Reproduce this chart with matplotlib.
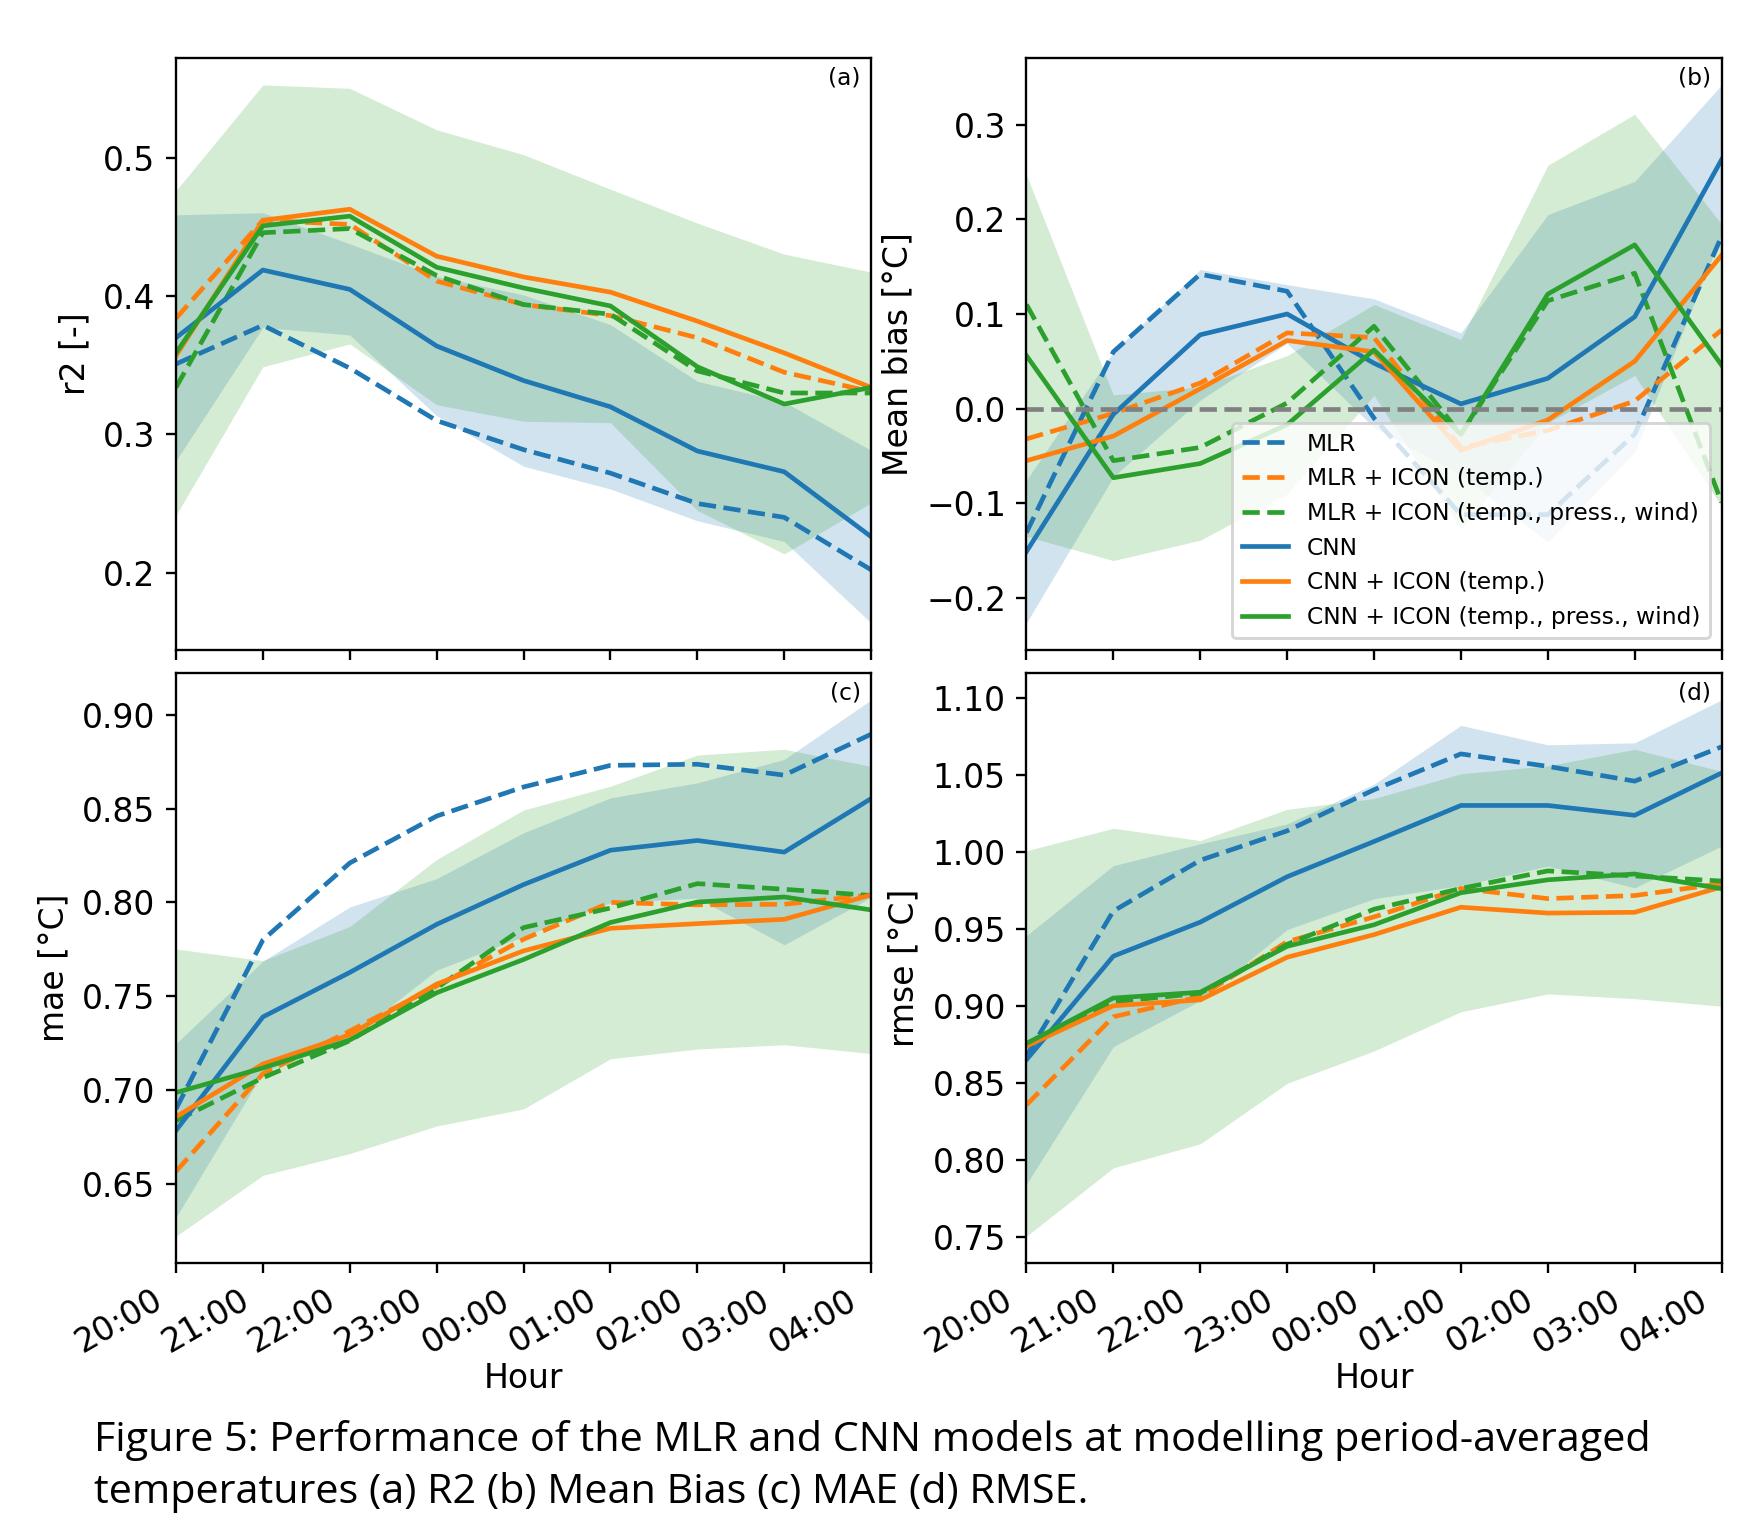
import matplotlib.pyplot as plt
from matplotlib.ticker import MultipleLocator
from matplotlib.transforms import ScaledTranslation
import numpy as np

plt.rcParams['font.size'] = 11.3
plt.rcParams['lines.linewidth'] = 1.6

# hours on the x axis
hours = ['20:00', '21:00', '22:00', '23:00', '00:00', '01:00', '02:00', '03:00', '04:00']

# (a) r2
r2_mlr = [0.351, 0.379, 0.348, 0.310, 0.289, 0.272, 0.250, 0.240, 0.202]
r2_mlr_t = [0.384, 0.455, 0.452, 0.411, 0.394, 0.386, 0.370, 0.345, 0.331]
r2_mlr_tpw = [0.334, 0.446, 0.449, 0.415, 0.394, 0.387, 0.346, 0.330, 0.330]
r2_cnn = [0.370, 0.419, 0.405, 0.364, 0.339, 0.320, 0.288, 0.273, 0.226]
r2_cnn_t = [0.357, 0.455, 0.463, 0.429, 0.414, 0.403, 0.382, 0.359, 0.334]
r2_cnn_tpw = [0.359, 0.451, 0.458, 0.421, 0.406, 0.393, 0.349, 0.322, 0.334]
r2_cnn_std = [0.089, 0.0415, 0.033, 0.0505, 0.062, 0.0595, 0.0505, 0.0505, 0.0625]
r2_cnn_tpw_std = [0.1175, 0.102, 0.0925, 0.0995, 0.0965, 0.0845, 0.104, 0.1085, 0.0835]

# (b) mean bias
mb_mlr = [-0.131, 0.060, 0.142, 0.124, -0.010, -0.112, -0.112, -0.027, 0.182]
mb_mlr_t = [-0.032, -0.005, 0.027, 0.080, 0.075, -0.041, -0.023, 0.008, 0.083]
mb_mlr_tpw = [0.110, -0.055, -0.041, 0.006, 0.087, -0.027, 0.114, 0.143, -0.099]
mb_cnn = [-0.151, -0.006, 0.078, 0.100, 0.048, 0.005, 0.032, 0.097, 0.263]
mb_cnn_t = [-0.055, -0.029, 0.021, 0.072, 0.060, -0.044, -0.012, 0.050, 0.162]
mb_cnn_tpw = [0.056, -0.073, -0.058, -0.017, 0.062, -0.027, 0.121, 0.173, 0.046]
mb_cnn_std = [0.0755, 0.066, 0.069, 0.031, 0.068, 0.075, 0.173, 0.143, 0.079]
mb_cnn_tpw_std = [0.191, 0.0875, 0.081, 0.073, 0.048, 0.10, 0.136, 0.138, 0.149]

# (c) mae
mae_mlr = [0.690, 0.780, 0.821, 0.846, 0.8615, 0.873, 0.8736, 0.8678, 0.8896]
mae_mlr_t = [0.6567, 0.7087, 0.7315, 0.7554, 0.7804, 0.800, 0.7987, 0.799, 0.804]
mae_mlr_tpw = [0.6837, 0.7066, 0.7263, 0.7544, 0.7866, 0.797, 0.810, 0.807, 0.8037]
mae_cnn = [0.6785, 0.739, 0.7627, 0.7883, 0.8095, 0.8278, 0.833, 0.8268, 0.8553]
mae_cnn_t = [0.6858, 0.7139, 0.7295, 0.7565, 0.7742, 0.7862, 0.7887, 0.791, 0.804]
mae_cnn_tpw = [0.6987, 0.7118, 0.7267, 0.7519, 0.7696, 0.7893, 0.8002, 0.8029, 0.796]
mae_cnn_std = [0.0463, 0.0297, 0.0349, 0.0244, 0.0276, 0.0279, 0.0307, 0.0494, 0.0526]
mae_cnn_tpw_std = [0.0765, 0.0572, 0.0605, 0.071, 0.0796, 0.0726, 0.0783, 0.0787, 0.0765]

# (d) rmse
rmse_mlr = [0.8674, 0.9615, 0.9945, 1.0136, 1.0403, 1.0636, 1.0555, 1.0459, 1.0682]
rmse_mlr_t = [0.8356, 0.8928, 0.906, 0.9416, 0.9577, 0.9762, 0.9696, 0.9716, 0.9793]
rmse_mlr_tpw = [0.8755, 0.9025, 0.9081, 0.9399, 0.9627, 0.9762, 0.9876, 0.9843, 0.981]
rmse_cnn = [0.8649, 0.9322, 0.9543, 0.9838, 1.0067, 1.0301, 1.0301, 1.0237, 1.0512]
rmse_cnn_t = [0.8738, 0.900, 0.9038, 0.9315, 0.9462, 0.964, 0.9602, 0.9607, 0.9772]
rmse_cnn_tpw = [0.8755, 0.905, 0.9088, 0.9386, 0.9526, 0.9734, 0.9818, 0.9856, 0.976]
rmse_cnn_std = [0.0807, 0.0588, 0.0509, 0.0343, 0.0372, 0.052, 0.0394, 0.0471, 0.0475]
rmse_cnn_tpw_std = [0.1252, 0.1103, 0.0985, 0.089, 0.082, 0.0773, 0.0741, 0.081, 0.0763]

labels = ['MLR', 'MLR + ICON (temp.)', 'MLR + ICON (temp., press., wind)',
          'CNN', 'CNN + ICON (temp.)', 'CNN + ICON (temp., press., wind)']

x = np.arange(len(hours))


def draw_panel(ax, mlr, mlr_t, mlr_tpw, cnn, cnn_t, cnn_tpw, cnn_std, cnn_tpw_std):
    ax.plot(x, mlr, color='C0', ls='--', label=labels[0])
    ax.plot(x, mlr_t, color='C1', ls='--', label=labels[1])
    ax.plot(x, mlr_tpw, color='C2', ls='--', label=labels[2])
    ax.plot(x, cnn, color='C0', label=labels[3])
    ax.fill_between(x, np.array(cnn) - cnn_std, np.array(cnn) + cnn_std, color='C0', alpha=0.2, lw=0)
    ax.plot(x, cnn_t, color='C1', label=labels[4])
    ax.plot(x, cnn_tpw, color='C2', label=labels[5])
    ax.fill_between(x, np.array(cnn_tpw) - cnn_tpw_std, np.array(cnn_tpw) + cnn_tpw_std,
                    color='C2', alpha=0.2, lw=0)
    ax.set_xlim(0, len(hours) - 1)
    ax.set_xticks(x)


fig = plt.figure(figsize=(1751 / 210, 1530 / 210), dpi=210)

ax_a = fig.add_axes([0.1005, 0.5752, 0.397, 0.3869])
ax_b = fig.add_axes([0.5862, 0.5752, 0.397, 0.3869])
ax_c = fig.add_axes([0.1005, 0.1745, 0.397, 0.3856])
ax_d = fig.add_axes([0.5862, 0.1745, 0.397, 0.3856])

draw_panel(ax_a, r2_mlr, r2_mlr_t, r2_mlr_tpw, r2_cnn, r2_cnn_t, r2_cnn_tpw, r2_cnn_std, r2_cnn_tpw_std)
draw_panel(ax_b, mb_mlr, mb_mlr_t, mb_mlr_tpw, mb_cnn, mb_cnn_t, mb_cnn_tpw, mb_cnn_std, mb_cnn_tpw_std)
draw_panel(ax_c, mae_mlr, mae_mlr_t, mae_mlr_tpw, mae_cnn, mae_cnn_t, mae_cnn_tpw, mae_cnn_std, mae_cnn_tpw_std)
draw_panel(ax_d, rmse_mlr, rmse_mlr_t, rmse_mlr_tpw, rmse_cnn, rmse_cnn_t, rmse_cnn_tpw,
           rmse_cnn_std, rmse_cnn_tpw_std)

ax_a.yaxis.set_major_locator(MultipleLocator(0.1))

ax_b.axhline(0, color='grey', ls='--')
ax_b.legend(loc='lower right', fontsize=8)

ax_a.set_ylabel('r2 [-]')
ax_b.set_ylabel('Mean bias [°C]')
ax_c.set_ylabel('mae [°C]')
ax_d.set_ylabel('rmse [°C]')

# shift rotated hour labels a little to the left of their ticks
shift = ScaledTranslation(-8 / 210, 0, fig.dpi_scale_trans)
for ax in [ax_a, ax_b]:
    ax.set_xticklabels([])
for ax in [ax_c, ax_d]:
    ax.set_xticklabels(hours, rotation=30, ha='right')
    for lab in ax.get_xticklabels():
        lab.set_transform(lab.get_transform() + shift)
    ax.set_xlabel('Hour', labelpad=1)

for ax, tag in zip([ax_a, ax_b, ax_c, ax_d], ['(a)', '(b)', '(c)', '(d)']):
    ax.text(0.985, 0.985, tag, transform=ax.transAxes, ha='right', va='top', fontsize=8)

# caption under the figure
fig.text(0.0537, 0.0588, 'Figure 5: Performance of the MLR and CNN models at modelling period-averaged',
         fontsize=14.2, family='Open Sans', va='center')
fig.text(0.0537, 0.0242, 'temperatures (a) R2 (b) Mean Bias (c) MAE (d) RMSE.',
         fontsize=14.2, family='Open Sans', va='center')

fig.savefig('out.png', dpi=210)
